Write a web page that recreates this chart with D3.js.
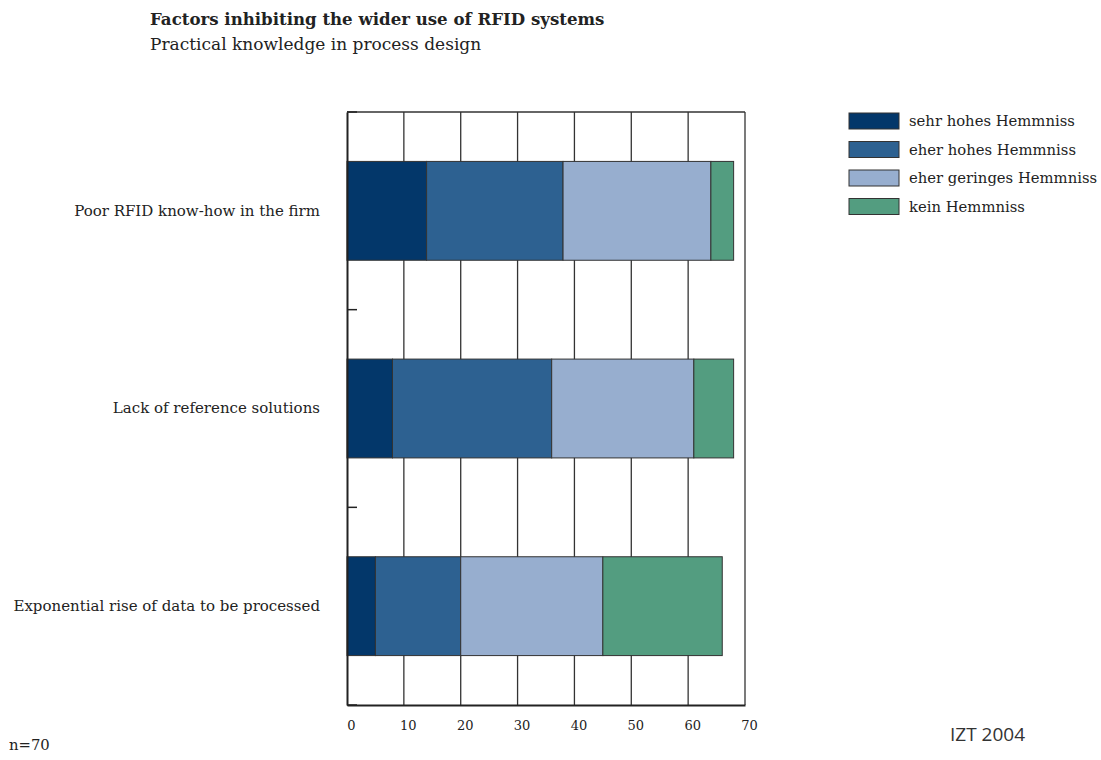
<!DOCTYPE html>
<html>
<head>
<meta charset="utf-8">
<script src="https://cdn.jsdelivr.net/npm/d3@7"></script>
<style>
  body { margin: 0; background: #fff; }
  svg { display: block; }
  .serif { font-family: "DejaVu Serif", serif; fill: #222; }
</style>
</head>
<body>
<svg id="chart" width="1101" height="760"></svg>
<script>
const categories = [
  "Poor RFID know-how in the firm",
  "Lack of reference solutions",
  "Exponential rise of data to be processed"
];
const seriesNames = ["sehr hohes Hemmniss", "eher hohes Hemmniss", "eher geringes Hemmniss", "kein Hemmniss"];
const sehrHoch   = [14, 8, 5];
const eherHoch   = [24, 28, 15];
const eherGering = [26, 25, 25];
const kein       = [4, 7, 21];
const xTicks = [0, 10, 20, 30, 40, 50, 60, 70];
const colors = ["#03376a", "#2d6191", "#97aecf", "#539d80"];

const svg = d3.select("#chart");
const pL = 347, pR = 745, pT = 112, pB = 705;

const x = d3.scaleLinear().domain([0, 70]).range([pL, pR]);
const y = d3.scaleBand().domain(categories).range([pT, pB]).paddingInner(0.5).paddingOuter(0.25);

// title
svg.append("text").attr("class", "serif").attr("x", 150).attr("y", 25)
  .style("font-size", "16.6px").style("font-weight", "bold").text("Factors inhibiting the wider use of RFID systems");
svg.append("text").attr("class", "serif").attr("x", 150).attr("y", 50)
  .style("font-size", "17px").text("Practical knowledge in process design");

// gridlines
svg.append("g").selectAll("line").data(xTicks.slice(1, -1)).join("line")
  .attr("x1", d => x(d)).attr("x2", d => x(d)).attr("y1", pT).attr("y2", pB)
  .attr("stroke", "#333").attr("stroke-width", 1.3);

// stacked data
const rows = categories.map((c, i) => ({cat: c, v: [sehrHoch[i], eherHoch[i], eherGering[i], kein[i]]}));
const stack = d3.stack().keys([0, 1, 2, 3]).value((d, k) => d.v[k]);
const stacked = stack(rows);

svg.append("g").selectAll("g").data(stacked).join("g")
  .attr("fill", (d, i) => colors[i])
  .selectAll("rect").data(d => d).join("rect")
  .attr("x", d => x(d[0])).attr("width", d => x(d[1]) - x(d[0]))
  .attr("y", d => y(d.data.cat)).attr("height", y.bandwidth())
  .attr("stroke", "#333").attr("stroke-width", 1);

// frame
svg.append("line").attr("x1", pL).attr("x2", pR).attr("y1", pT).attr("y2", pT).attr("stroke", "#333").attr("stroke-width", 1.3);
svg.append("line").attr("x1", pR).attr("x2", pR).attr("y1", pT).attr("y2", pB).attr("stroke", "#333").attr("stroke-width", 1.3);

// x axis
const xAxis = d3.axisBottom(x).tickValues(xTicks).tickSize(0).tickPadding(0);
const gx = svg.append("g").attr("transform", `translate(0,${pB})`).call(xAxis);
gx.select(".domain").attr("stroke", "#222").attr("stroke-width", 2);
gx.selectAll("text").attr("dx", 4).attr("y", 25).attr("dy", 0)
  .style("font-size", "13px").style("font-family", "DejaVu Serif, serif").attr("fill", "#222");

// y axis
const bandEdges = [pT, ...categories.slice(0, -1).map((c, i) => (y(c) + y.bandwidth() + y(categories[i + 1])) / 2), pB];
svg.append("g").selectAll("line").data(bandEdges).join("line")
  .attr("x1", pL).attr("x2", pL + 10).attr("y1", d => d).attr("y2", d => d)
  .attr("stroke", "#222").attr("stroke-width", 1.5);
const yAxis = d3.axisLeft(y).tickSize(0).tickPadding(27);
const gy = svg.append("g").attr("transform", `translate(${pL},0)`).call(yAxis);
gy.select(".domain").attr("stroke", "#222").attr("stroke-width", 2);
gy.selectAll("text").style("font-size", "15px").style("font-family", "DejaVu Serif, serif").attr("fill", "#222");

// legend
const lg = svg.append("g").attr("transform", "translate(849,113)");
seriesNames.forEach((n, i) => {
  const g = lg.append("g").attr("transform", `translate(0,${i * 28.5})`);
  g.append("rect").attr("width", 50).attr("height", 16).attr("fill", colors[i]).attr("stroke", "#333").attr("stroke-width", 1);
  g.append("text").attr("class", "serif").attr("x", 60).attr("y", 13).style("font-size", "14.8px").text(n);
});

// footnotes
svg.append("text").attr("class", "serif").attr("x", 9).attr("y", 750).style("font-size", "14.8px").text("n=70");
svg.append("text").attr("x", 950).attr("y", 741).style("font-family", "'Open Sans', 'DejaVu Sans', sans-serif")
  .style("font-size", "19px").attr("fill", "#333").text("IZT 2004");
</script>
</body>
</html>
